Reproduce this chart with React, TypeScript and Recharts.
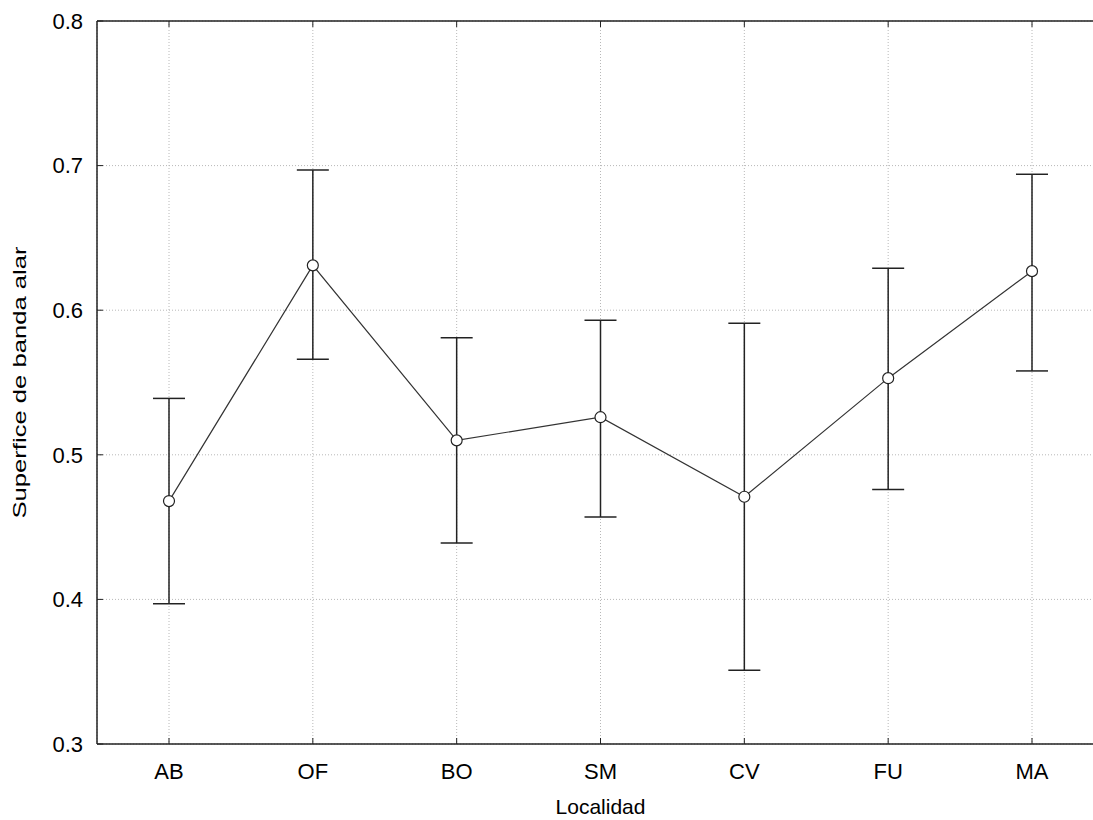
import React from 'react';
import {
  LineChart,
  Line,
  XAxis,
  YAxis,
  CartesianGrid,
  ErrorBar,
} from 'recharts';

const CATEGORIES = ['AB', 'OF', 'BO', 'SM', 'CV', 'FU', 'MA'];
const MEANS = [0.468, 0.631, 0.51, 0.526, 0.471, 0.553, 0.627];
const UPPER = [0.539, 0.697, 0.581, 0.593, 0.591, 0.629, 0.694];
const LOWER = [0.397, 0.566, 0.439, 0.457, 0.351, 0.476, 0.558];
const Y_TICKS = [0.3, 0.4, 0.5, 0.6, 0.7, 0.8];

const FONT = '"Liberation Sans", Arial, sans-serif';

const data = CATEGORIES.map((name, i) => ({
  name,
  mean: MEANS[i],
  err: [MEANS[i] - LOWER[i], UPPER[i] - MEANS[i]],
}));

const YLabel = (props: any) => {
  const vb = props.viewBox || {};
  const cy = vb.y + vb.height / 2;
  return (
    <text
      x={26}
      y={cy}
      transform={`rotate(-90, 26, ${cy})`}
      textAnchor="middle"
      textLength={272}
      lengthAdjust="spacingAndGlyphs"
      fontSize={17.5}
      fontFamily={FONT}
      fill="#000"
    >
      Superfice de banda alar
    </text>
  );
};

export default function App() {
  return (
    <div
      style={{
        position: 'absolute',
        left: 0,
        top: 0,
        width: 1093,
        height: 820,
        overflow: 'hidden',
        background: '#fff',
      }}
    >
      <LineChart
        width={1104}
        height={820}
        data={data}
        margin={{ top: 20, right: 0, left: 0, bottom: 0 }}
      >
        <CartesianGrid stroke="#b8b8b8" strokeDasharray="1 2" />
        <XAxis
          xAxisId="top"
          orientation="top"
          dataKey="name"
          height={1}
          padding={{ left: 72, right: 72 }}
          tickFormatter={() => ''}
          tickSize={-6}
          axisLine={{ stroke: '#222', strokeWidth: 1.5 }}
          tickLine={{ stroke: '#222' }}
        />
        <XAxis
          dataKey="name"
          height={76}
          padding={{ left: 72, right: 72 }}
          tickSize={-6}
          tickMargin={25}
          axisLine={{ stroke: '#222', strokeWidth: 1.5 }}
          tickLine={{ stroke: '#222' }}
          tick={{ fill: '#000', fontSize: 22, fontFamily: FONT }}
          label={{
            value: 'Localidad',
            position: 'insideBottom',
            offset: 6,
            fill: '#000',
            fontSize: 21,
            fontFamily: FONT,
          }}
        />
        <YAxis
          width={97}
          domain={[0.3, 0.8]}
          ticks={Y_TICKS}
          tickFormatter={(v: number) => v.toFixed(1)}
          tickSize={-6}
          tickMargin={20}
          axisLine={{ stroke: '#222', strokeWidth: 1.5 }}
          tickLine={{ stroke: '#222' }}
          tick={{ fill: '#000', fontSize: 22, fontFamily: FONT }}
          label={<YLabel />}
        />
        <Line
          type="linear"
          dataKey="mean"
          stroke="#333"
          strokeWidth={1.2}
          dot={{ r: 5.5, fill: '#fff', stroke: '#222', strokeWidth: 1.2 }}
          activeDot={false}
          isAnimationActive={false}
        >
          <ErrorBar
            dataKey="err"
            width={16}
            stroke="#222"
            strokeWidth={1.5}
            direction="y"
            isAnimationActive={false}
          />
        </Line>
      </LineChart>
    </div>
  );
}
